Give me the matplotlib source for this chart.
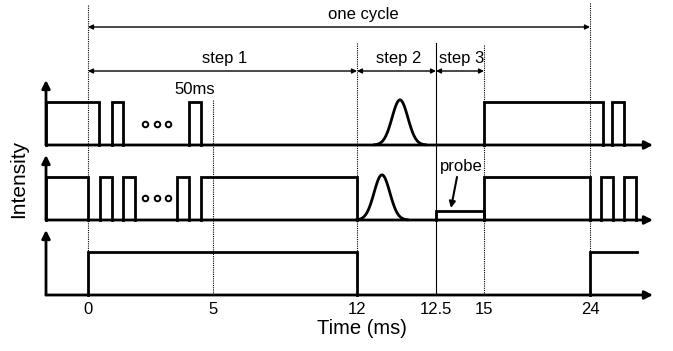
import matplotlib
matplotlib.use('Agg')
import matplotlib.pyplot as plt  # noqa: E402
import numpy as np  # noqa: E402

plt.rcParams['font.family'] = ['Liberation Sans', 'DejaVu Sans']

# ------------------------------------------------------------------
# Timing data (ms). The drawing is a schematic, so time is mapped to
# the horizontal position through a piecewise-linear (warped) scale.
# ------------------------------------------------------------------
tick_times = [0, 5, 12, 12.5, 15, 24]
tick_labels = ['0', '5', '12', '12.5', '15', '24']

# high intervals (start, end, level) for each channel
top_pulses = [(-1.68, 0.44, 1.0), (0.96, 1.40, 1.0), (4.04, 4.52, 1.0),
              (15.0, 24.52, 1.0), (24.88, 25.36, 1.0)]
mid_pulses = [(-1.68, 0.0, 1.0), (0.48, 0.96, 1.0), (1.40, 1.88, 1.0),
              (3.56, 4.04, 1.0), (4.52, 12.0, 1.0), (12.5, 15.0, 0.2),
              (15.0, 24.0, 1.0), (24.44, 24.92, 1.0), (25.36, 25.84, 1.0)]
bot_pulses = [(0.0, 12.0, 1.0), (24.0, 25.88, 1.0)]

# gaussian pulses (center, sigma, peak) in ms
top_gauss = (12.272, 0.050, 1.05)
mid_gauss = (12.158, 0.050, 1.05)

dots_times = [2.28, 2.76, 3.20]

# step spans
cycle_span = (0, 24)
step_spans = [(0, 12, 'step 1'), (12, 12.5, 'step 2'), (12.5, 15, 'step 3')]

# ------------------------------------------------------------------
# layout (pixel-like canvas coordinates, y downwards)
# ------------------------------------------------------------------
W, H = 673, 351
scale_t = [-1.68, 0, 5, 12, 12.5, 15, 24, 26.52]
scale_x = [46, 88, 213, 357, 436, 484, 590, 653]
baselines = [145, 220, 295]
amp = 43
LW = 2.0


def tx(t):
    return np.interp(t, scale_t, scale_x)


fig = plt.figure(figsize=(W / 100, H / 100), dpi=100)
ax = fig.add_axes([0, 0, 1, 1])
ax.set_xlim(0, W)
ax.set_ylim(H, 0)
ax.axis('off')


def arrow(x0, y0, x1, y1, style='-|>', lw=LW, ms=11):
    ax.annotate('', xy=(x1, y1), xytext=(x0, y0),
                arrowprops=dict(arrowstyle=style, lw=lw, color='black',
                                mutation_scale=ms, shrinkA=0, shrinkB=0))


def draw_pulses(pulses, y0, open_end=False):
    for i, (a, b, lev) in enumerate(pulses):
        xs = [tx(a), tx(a), tx(b), tx(b)]
        ys = [y0, y0 - lev * amp, y0 - lev * amp, y0]
        if open_end and i == len(pulses) - 1:
            xs, ys = xs[:3], ys[:3]  # trace runs off, no falling edge
        ax.plot(xs, ys, color='black', lw=LW, solid_joinstyle='miter')


def draw_gauss(g, y0):
    c, s, p = g
    t = np.linspace(c - 3.2 * s, c + 3.2 * s, 80)
    ax.plot(tx(t), y0 - p * amp * np.exp(-0.5 * ((t - c) / s) ** 2),
            color='black', lw=LW)


# axes of the three channels
for y0 in baselines:
    arrow(scale_x[0], y0, scale_x[-1], y0, ms=12)
    arrow(scale_x[0], y0, scale_x[0], y0 - 65, ms=12)

draw_pulses(top_pulses, baselines[0])
draw_pulses(mid_pulses, baselines[1])
draw_pulses(bot_pulses, baselines[2], open_end=True)
draw_gauss(top_gauss, baselines[0])
draw_gauss(mid_gauss, baselines[1])

# "ooo" ellipsis
for y0 in (124, 198):
    ax.plot(tx(np.array(dots_times)), [y0] * 3, 'o', ms=4, mfc='white',
            mec='black', mew=1.4)

# vertical guides
guide_tops = {0: 5, 5: 100, 12: 43, 12.5: 43, 15: 45, 24: 3}
for t, ytop in guide_tops.items():
    ls = '-' if t == 12.5 else (0, (1, 1))
    ax.plot([tx(t), tx(t)], [ytop, baselines[-1]], color='black', lw=0.8,
            ls=ls)

# cycle / step dimension arrows
arrow(tx(cycle_span[0]), 27, tx(cycle_span[1]), 27, style='<|-|>', lw=1.0, ms=7)
ax.text(tx(np.mean(cycle_span)) + 6, 14, 'one cycle', ha='center',
        va='center', fontsize=12)
for a, b, lab in step_spans:
    arrow(tx(a), 71, tx(b), 71, style='<|-|>', lw=1.0, ms=7)
    ax.text((tx(a) + tx(b)) / 2 + 2, 58, lab, ha='center', va='center',
            fontsize=12)

# annotations
ax.text(tx(4.28), 90, '50ms', ha='center', va='center', fontsize=12)
ax.text(461, 166, 'probe', ha='center', va='center', fontsize=12)
ax.annotate('', xy=(451, 208), xytext=(457, 177),
            arrowprops=dict(arrowstyle='-|>', lw=1.5, color='black',
                            mutation_scale=9, shrinkA=0, shrinkB=0))

# tick labels and axis titles
for t, lab in zip(tick_times, tick_labels):
    ax.text(tx(t), 310, lab, ha='center', va='center', fontsize=12)
ax.text(362, 328, 'Time (ms)', ha='center', va='center', fontsize=14.5)
ax.text(19, 179, 'Intensity', ha='center', va='center', fontsize=15,
        rotation=90)

plt.savefig('out.png', dpi=100)
plt.close()
